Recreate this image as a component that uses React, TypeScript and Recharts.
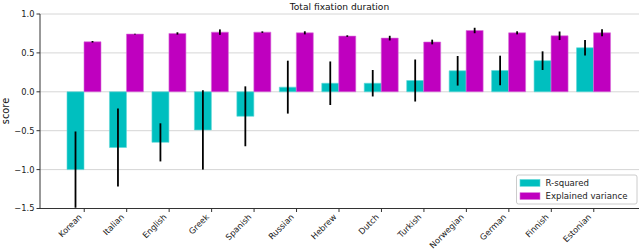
import React from 'react';
import { BarChart, Bar, XAxis, YAxis, CartesianGrid, ErrorBar } from 'recharts';

const languages = ['Korean', 'Italian', 'English', 'Greek', 'Spanish', 'Russian', 'Hebrew', 'Dutch', 'Turkish', 'Norwegian', 'German', 'Finnish', 'Estonian'];
const rSquared = [-1.0, -0.716, -0.65, -0.49, -0.315, 0.06, 0.11, 0.11, 0.145, 0.27, 0.274, 0.4, 0.566];
const rSquaredErr = [0.49, 0.5, 0.245, 0.51, 0.385, 0.34, 0.28, 0.17, 0.27, 0.19, 0.19, 0.12, 0.1];
const explainedVariance = [0.643, 0.742, 0.75, 0.767, 0.767, 0.758, 0.716, 0.69, 0.64, 0.788, 0.758, 0.72, 0.758];
const explainedVarianceErr = [0.01, 0.005, 0.015, 0.035, 0.01, 0.02, 0.01, 0.03, 0.03, 0.035, 0.02, 0.055, 0.045];
const yTicks = [-1.5, -1.0, -0.5, 0.0, 0.5, 1.0];
const seriesNames = ['R-squared', 'Explained variance'];
const seriesColors = ['#00BFBF', '#BF00BF'];
const title = 'Total fixation duration';
const yLabel = 'score';

const data = languages.map((lang, i) => ({
  lang,
  r2: rSquared[i],
  r2Err: rSquaredErr[i],
  ev: explainedVariance[i],
  evErr: explainedVarianceErr[i],
}));

const FONT = '"DejaVu Sans", sans-serif';
const FRAME = '#333333';

const fmt = (v: number) => v.toFixed(1).replace('-', '\u2212');

const XTick = (props: any) => {
  const { x, y, payload } = props;
  return (
    <text
      x={0}
      y={0}
      transform={`translate(${x - 2},${y + 5.5}) rotate(-45)`}
      textAnchor="end"
      fontSize={8.3}
      fontFamily={FONT}
      fill="#222"
    >
      {payload.value}
    </text>
  );
};

export default function App() {
  return (
    <div style={{ position: 'absolute', left: 0, top: 0, width: 640, height: 250 }}>
      <BarChart
        width={640}
        height={250}
        data={data}
        margin={{ top: 14, right: 1, bottom: 0, left: 0 }}
        barGap={0}
      >
        <CartesianGrid vertical={false} stroke="#d6d6d6" strokeWidth={1} />
        <XAxis
          dataKey="lang"
          type="category"
          height={41.5}
          padding={{ left: 23, right: 24 }}
          interval={0}
          tickSize={3.5}
          tickMargin={0}
          axisLine={{ stroke: FRAME }}
          tickLine={{ stroke: FRAME }}
          tick={<XTick />}
        />
        <XAxis
          xAxisId="top"
          dataKey="lang"
          orientation="top"
          height={0}
          padding={{ left: 23, right: 24 }}
          tick={false}
          tickLine={false}
          axisLine={{ stroke: FRAME }}
        />
        <YAxis
          type="number"
          domain={[-1.5, 1.0]}
          ticks={yTicks}
          allowDataOverflow
          width={40}
          tickSize={3.5}
          tickMargin={2}
          tickFormatter={fmt}
          axisLine={{ stroke: FRAME }}
          tickLine={{ stroke: FRAME }}
          tick={{ fontSize: 8.3, fontFamily: FONT, fill: '#222' }}
        />
        <YAxis
          yAxisId="right"
          orientation="right"
          type="number"
          domain={[-1.5, 1.0]}
          allowDataOverflow
          width={0}
          tick={false}
          tickLine={false}
          axisLine={{ stroke: FRAME }}
        />
        <Bar dataKey="r2" name={seriesNames[0]} fill={seriesColors[0]} stroke="#5fd8d8" strokeWidth={0.6} barSize={17} isAnimationActive={false}>
          <ErrorBar dataKey="r2Err" width={0} stroke="#000" strokeWidth={1.8} />
        </Bar>
        <Bar dataKey="ev" name={seriesNames[1]} fill={seriesColors[1]} stroke="#d870d8" strokeWidth={0.6} barSize={17} isAnimationActive={false}>
          <ErrorBar dataKey="evErr" width={0} stroke="#000" strokeWidth={1.8} />
        </Bar>
      </BarChart>
      <svg width={640} height={250} style={{ position: 'absolute', left: 0, top: 0, pointerEvents: 'none' }}>
        <text x={339.5} y={10} textAnchor="middle" fontSize={9.1} fontFamily={FONT} fill="#111">
          {title}
        </text>
        <text
          x={0}
          y={0}
          transform="translate(8.5,111) rotate(-90)"
          textAnchor="middle"
          fontSize={9.8}
          fontFamily={FONT}
          fill="#111"
        >
          {yLabel}
        </text>
        <rect x={516.5} y={175} width={120.5} height={29} rx={2} fill="rgba(255,255,255,0.85)" stroke="#cccccc" strokeWidth={1} />
        {seriesNames.map((name, i) => (
          <g key={name}>
            <rect x={520} y={179.5 + i * 13.2} width={20} height={6.8} fill={seriesColors[i]} stroke={i === 0 ? '#5fd8d8' : '#d870d8'} strokeWidth={0.6} />
            <text x={545.5} y={186 + i * 13.2} fontSize={8.6} fontFamily={FONT} fill="#222">
              {name}
            </text>
          </g>
        ))}
      </svg>
    </div>
  );
}
